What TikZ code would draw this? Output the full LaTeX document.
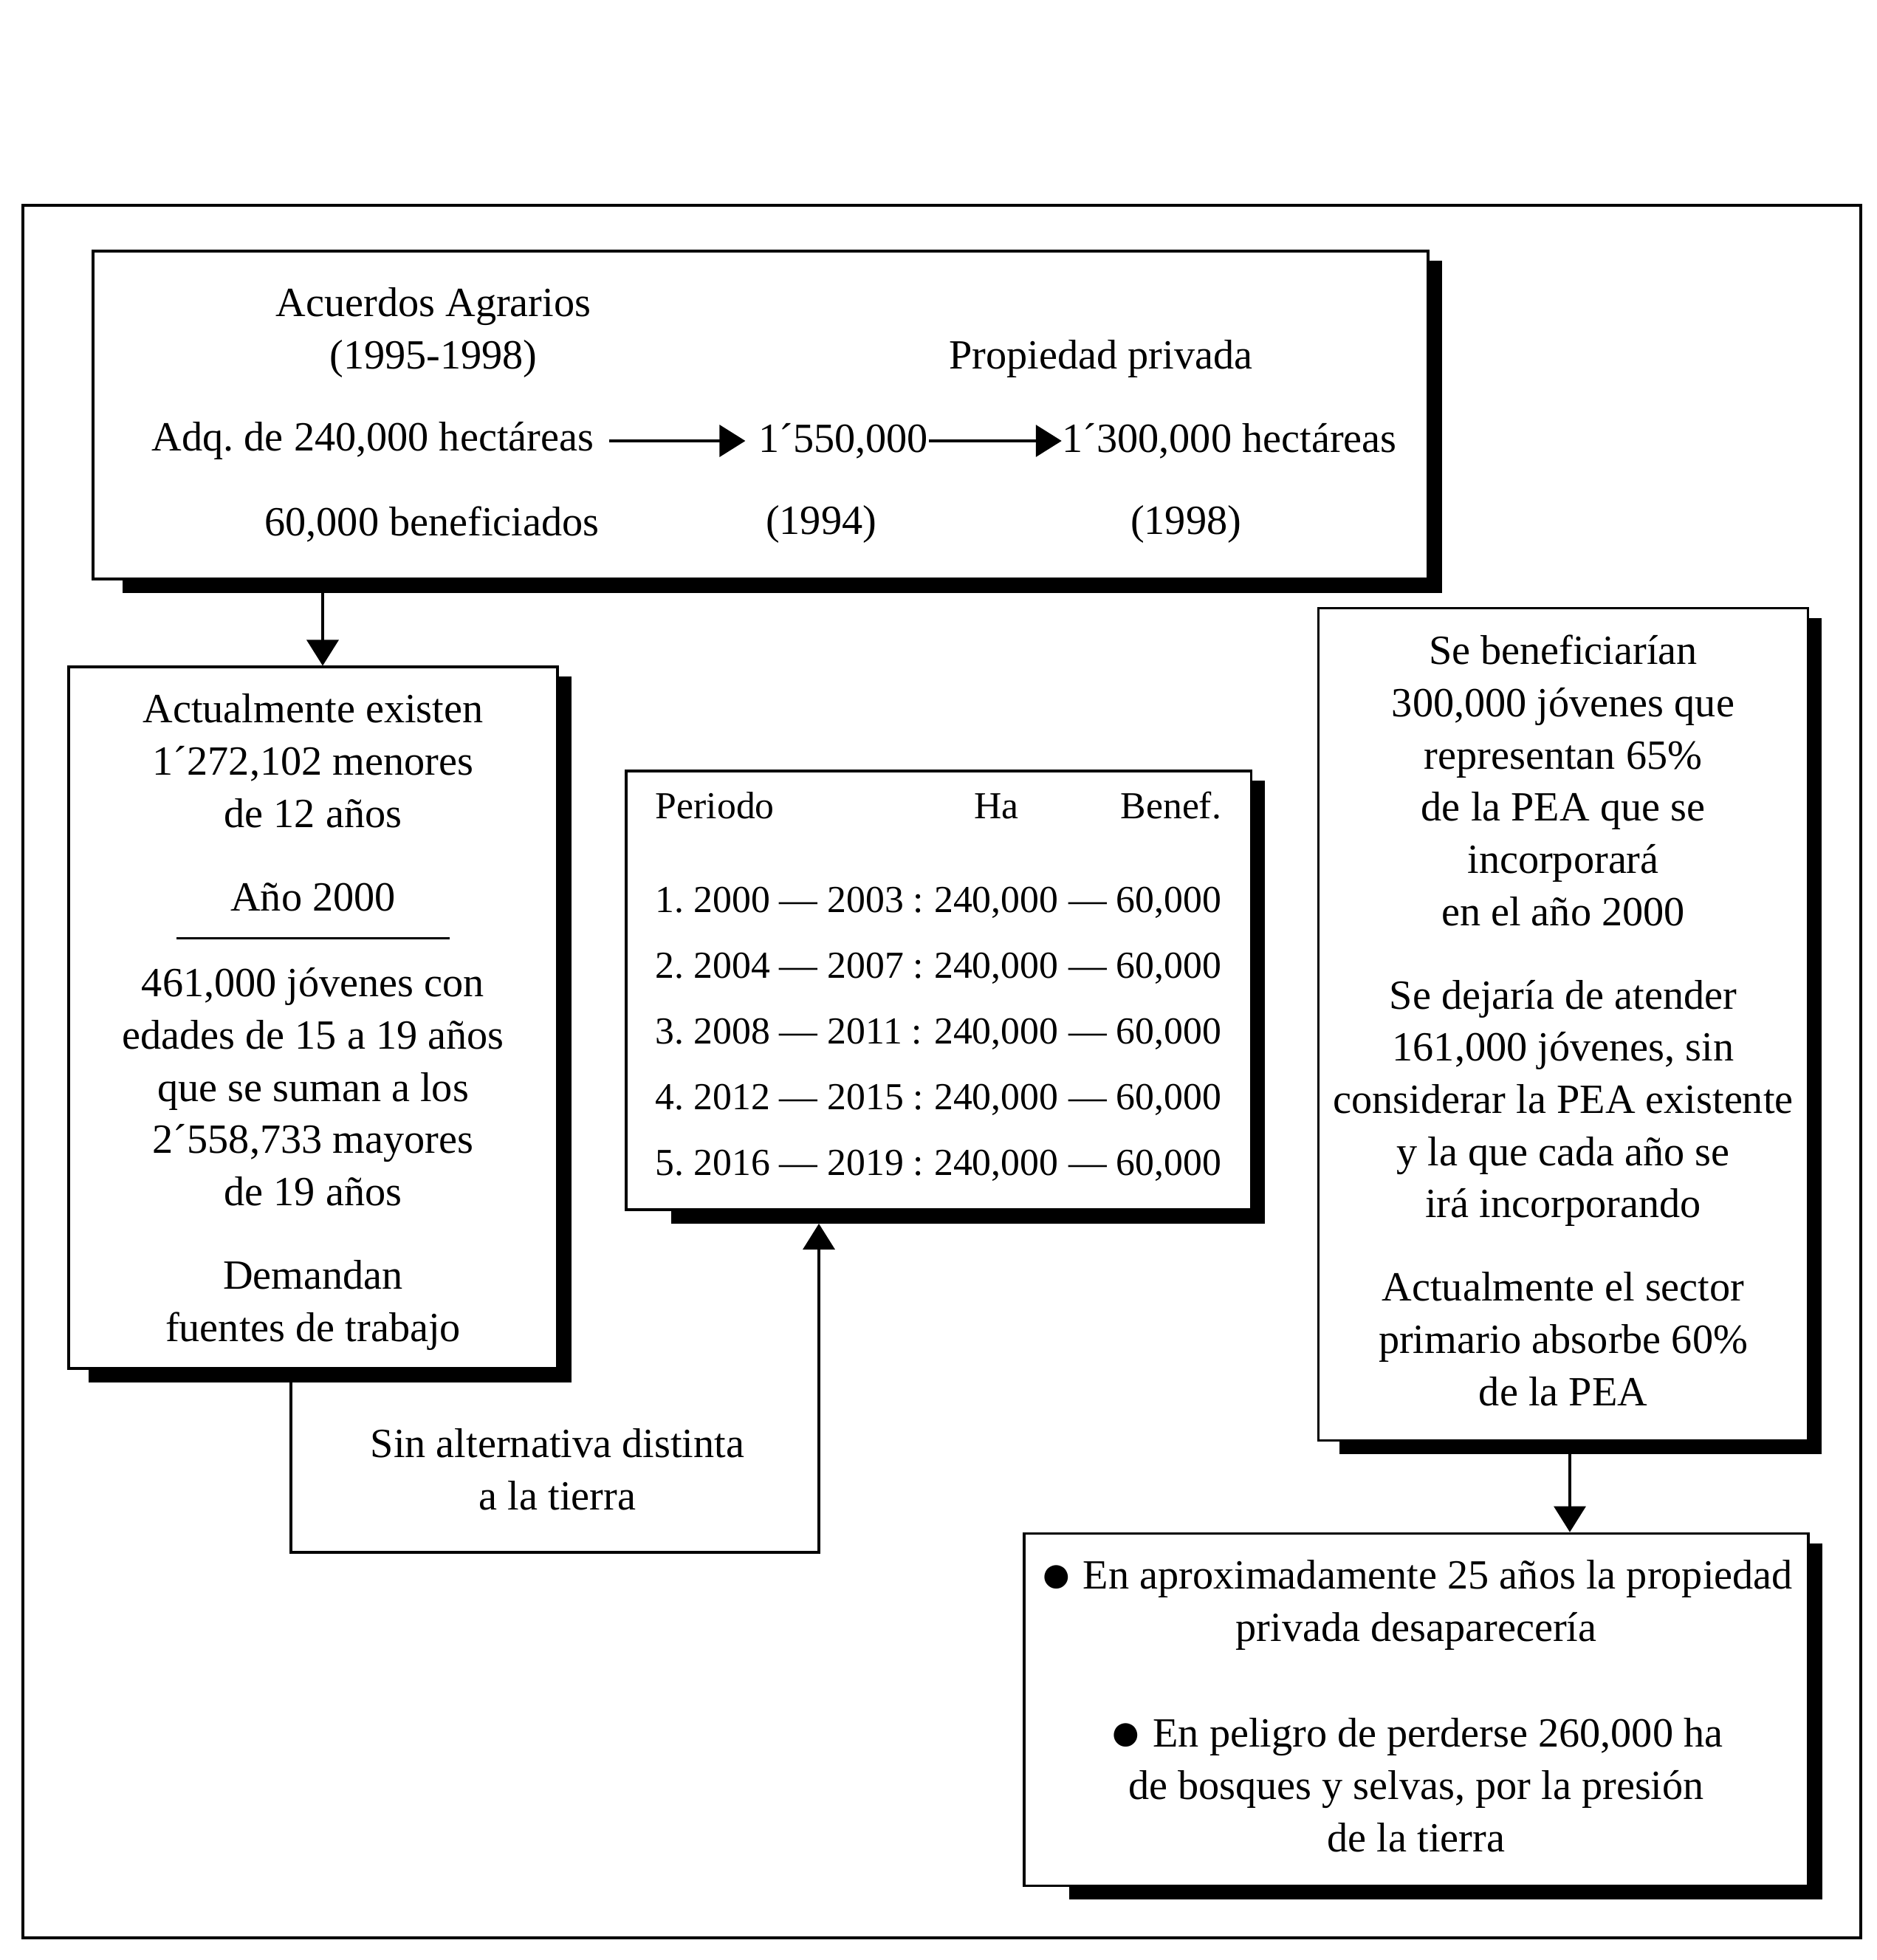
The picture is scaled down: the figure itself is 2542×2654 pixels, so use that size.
\documentclass[tikz,border=0pt]{standalone}
\usepackage{fontspec}
\setmainfont{Liberation Serif}
\usetikzlibrary{arrows.meta,backgrounds}
\frenchspacing
\newcommand{\vineta}{\raisebox{-1.3pt}{\fontsize{21}{20}\selectfont ●}}

\begin{document}
\begin{tikzpicture}[x=0.01cm,y=-0.01cm,
    box/.style={rectangle,draw,line width=0.035cm,fill=white,inner sep=0pt},
    txt/.style={inner sep=0pt,align=center,font=\fontsize{16}{20.1}\selectfont},
    arrow/.style={-{Triangle[length=0.35cm,width=0.43cm]},line width=0.035cm}]

\useasboundingbox (0,0) rectangle (2542,2654);

% Marco exterior
\draw[line width=0.035cm] (31,278) rectangle (2520,2624);

% Acuerdos agrarios
\node[box,minimum width=18.07cm,minimum height=4.44cm] (arriba) at (1030,562) {};
\node[txt] (acuerdos) at (587,415) {Acuerdos Agrarios};
\node[txt] (periodo) at (587,486) {(1995-1998)};
\node[txt] (propiedad) at (1491,486) {Propiedad privada};
\node[txt] (adq) at (505,597) {Adq. de 240,000 hectáreas};
\node[txt] (p1994) at (1142,597) {1´550,000};
\node[txt] (p1998) at (1665,597) {1´300,000 hectáreas};
\node[txt] (benef) at (585,710) {60,000 beneficiados};
\node[txt] (a1994) at (1112,710) {(1994)};
\node[txt] (a1998) at (1606,710) {(1998)};

\draw[arrow,shorten <=0.2cm,shorten >=0.17cm] (adq.east) -- (p1994.west);
\draw[arrow] (p1994.east) -- (p1998.west);

% Jovenes
\node[box,minimum width=6.62cm,minimum height=9.49cm] (jovenes) at (424,1378) {};
\node[txt] (jovtxt) at (424,1384) {Actualmente existen\\1´272,102 menores\\de 12 años\\[12pt]Año 2000\\[-6pt]\rule[3pt]{3.69cm}{0.03cm}\\[-1pt]461,000 jóvenes con\\edades de 15 a 19 años\\que se suman a los\\2´558,733 mayores\\de 19 años\\[12pt]Demandan\\fuentes de trabajo};

% Tabla de periodos
\node[box,minimum width=8.46cm,minimum height=5.94cm,font=\fontsize{14.7}{18}\selectfont] (tabla) at (1271,1341) {\renewcommand{\arraystretch}{1.406}%
\begin{tabular}{@{}l@{\hspace{4pt}}c@{\hspace{4pt}}r@{}}
Periodo & Ha & Benef.\\[10.8pt]
1. 2000 — 2003 : & 240,000 & — 60,000\\
2. 2004 — 2007 : & 240,000 & — 60,000\\
3. 2008 — 2011 : & 240,000 & — 60,000\\
4. 2012 — 2015 : & 240,000 & — 60,000\\
5. 2016 — 2019 : & 240,000 & — 60,000\\[4.8pt]
\end{tabular}};

% Beneficiarios
\node[box,minimum width=6.63cm,minimum height=11.26cm] (benefic) at (2117,1387) {};
\node[txt] (bentxt) at (2117,1382) {Se beneficiarían\\300,000 jóvenes que\\representan 65\%\\de la PEA que se\\incorporará\\en el año 2000\\[12pt]Se dejaría de atender\\161,000 jóvenes, sin\\considerar la PEA existente\\y la que cada año se\\irá incorporando\\[12pt]Actualmente el sector\\primario absorbe 60\%\\de la PEA};

% Consecuencias
\node[box,minimum width=10.61cm,minimum height=4.77cm] (consec) at (1918,2315) {};
\node[txt] (contxt) at (1918,2310) {\vineta\ En aproximadamente 25 años la propiedad\\privada desaparecería\\[20.7pt]\vineta\ En peligro de perderse 260,000 ha\\de bosques y selvas, por la presión\\de la tierra};

\node[txt] (sinalt) at (755,1990) {Sin alternativa distinta\\a la tierra};

% Flechas
\coordinate (xa) at (437,0);
\coordinate (xb) at (2126,0);
\coordinate (c1) at (394,2102);
\coordinate (c2) at (1109,2102);
\coordinate (tb) at ([yshift=-0.17cm]tabla.south);

\draw[arrow] (arriba.south -| xa) -- (jovenes.north -| xa);
\draw[arrow] (benefic.south -| xb) -- (consec.north -| xb);
\draw[arrow] (jovenes.south -| c1) -- (c1) -- (c2) -- (tb -| c2);

% Sombras
\begin{pgfonlayer}{background}
\foreach \n/\s in {arriba/0.42,jovenes/0.29,tabla/0.63,benefic/0.30,consec/0.63}
  \fill ([xshift=\s cm,yshift=-0.17cm]\n.south west) rectangle ([xshift=0.17cm,yshift=-0.15cm]\n.north east);
\end{pgfonlayer}

\end{tikzpicture}
\end{document}
